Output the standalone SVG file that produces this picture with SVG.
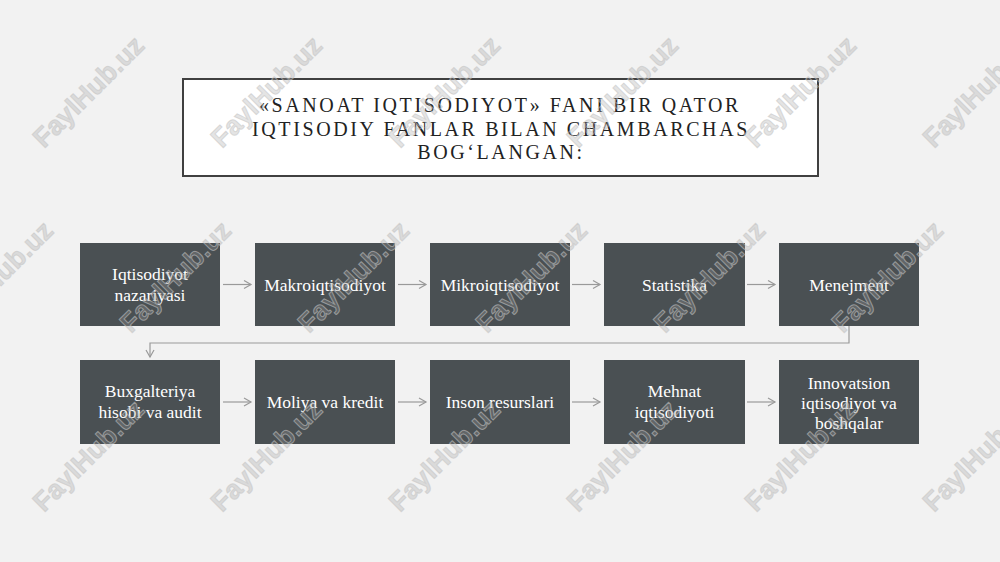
<svg xmlns="http://www.w3.org/2000/svg" width="1000" height="562" viewBox="0 0 1000 562">
<style>
.node rect{fill:#4a5053;}
.node text{fill:#ffffff;font-family:"Liberation Serif","Times New Roman",serif;font-size:17.5px;text-anchor:middle;}
.title{font-family:"Liberation Serif","Times New Roman",serif;font-size:20px;fill:#222;text-anchor:middle;letter-spacing:2.6px;}
.conn{fill:none;stroke:#9a9a9a;stroke-width:1.2;}
.wm{font-family:"Liberation Sans",Arial,sans-serif;font-weight:bold;font-size:27px;fill:#a0a0a0;fill-opacity:0.28;stroke:#c4c4c4;stroke-opacity:0.6;stroke-width:1;text-anchor:middle;}
</style>
<defs>
<marker id="arr" markerWidth="10" markerHeight="10" refX="8" refY="5" orient="auto" markerUnits="userSpaceOnUse">
<path d="M1,1 L8,5 L1,9" fill="none" stroke="#9a9a9a" stroke-width="1.2"/>
</marker>
</defs>
<rect width="1000" height="562" fill="#f2f2f2"/>

<g id="title">
<rect x="183" y="79" width="635" height="97" fill="#ffffff" stroke="#404040" stroke-width="2"/>
<text class="title" x="500" y="112">«SANOAT IQTISODIYOT» FANI BIR QATOR</text>
<text class="title" x="501" y="136">IQTISODIY FANLAR BILAN CHAMBARCHAS</text>
<text class="title" x="501" y="159">BOG‘LANGAN:</text>
</g>

<g id="connectors">
<line class="conn" x1="223" y1="284.5" x2="251" y2="284.5" marker-end="url(#arr)"/>
<line class="conn" x1="398" y1="284.5" x2="426" y2="284.5" marker-end="url(#arr)"/>
<line class="conn" x1="572" y1="284.5" x2="600" y2="284.5" marker-end="url(#arr)"/>
<line class="conn" x1="747" y1="284.5" x2="775" y2="284.5" marker-end="url(#arr)"/>
<polyline class="conn" points="849,326 849,343 150,343 150,357" marker-end="url(#arr)"/>
<line class="conn" x1="223" y1="402" x2="251" y2="402" marker-end="url(#arr)"/>
<line class="conn" x1="398" y1="402" x2="426" y2="402" marker-end="url(#arr)"/>
<line class="conn" x1="572" y1="402" x2="600" y2="402" marker-end="url(#arr)"/>
<line class="conn" x1="747" y1="402" x2="775" y2="402" marker-end="url(#arr)"/>
</g>

<g id="n1" class="node"><rect x="80" y="243" width="140" height="83"/><text x="150" y="280">Iqtisodiyot</text><text x="150" y="301">nazariyasi</text></g>
<g id="n2" class="node"><rect x="255" y="243" width="140" height="83"/><text x="325" y="291">Makroiqtisodiyot</text></g>
<g id="n3" class="node"><rect x="430" y="243" width="140" height="83"/><text x="500" y="291">Mikroiqtisodiyot</text></g>
<g id="n4" class="node"><rect x="604" y="243" width="141" height="83"/><text x="674.5" y="291">Statistika</text></g>
<g id="n5" class="node"><rect x="779" y="243" width="140" height="83"/><text x="849" y="291">Menejment</text></g>

<g id="n6" class="node"><rect x="80" y="360" width="140" height="84"/><text x="150" y="397">Buxgalteriya</text><text x="150" y="418">hisobi va audit</text></g>
<g id="n7" class="node"><rect x="255" y="360" width="140" height="84"/><text x="325" y="408">Moliya va kredit</text></g>
<g id="n8" class="node"><rect x="430" y="360" width="140" height="84"/><text x="500" y="408">Inson resurslari</text></g>
<g id="n9" class="node"><rect x="604" y="360" width="141" height="84"/><text x="674.5" y="397">Mehnat</text><text x="674.5" y="418">iqtisodiyoti</text></g>
<g id="n10" class="node"><rect x="779" y="360" width="140" height="84"/><text x="849" y="389">Innovatsion</text><text x="849" y="409">iqtisodiyot va</text><text x="849" y="429">boshqalar</text></g>

<g id="watermarks">
<text class="wm" transform="translate(95,98) rotate(-45)">FaylHub.uz</text>
<text class="wm" transform="translate(273,98) rotate(-45)">FaylHub.uz</text>
<text class="wm" transform="translate(451,98) rotate(-45)">FaylHub.uz</text>
<text class="wm" transform="translate(629,98) rotate(-45)">FaylHub.uz</text>
<text class="wm" transform="translate(807,98) rotate(-45)">FaylHub.uz</text>
<text class="wm" transform="translate(985,98) rotate(-45)">FaylHub.uz</text>
<text class="wm" transform="translate(4,283) rotate(-45)">FaylHub.uz</text>
<text class="wm" transform="translate(182,283) rotate(-45)">FaylHub.uz</text>
<text class="wm" transform="translate(360,283) rotate(-45)">FaylHub.uz</text>
<text class="wm" transform="translate(538,283) rotate(-45)">FaylHub.uz</text>
<text class="wm" transform="translate(716,283) rotate(-45)">FaylHub.uz</text>
<text class="wm" transform="translate(894,283) rotate(-45)">FaylHub.uz</text>
<text class="wm" transform="translate(95,462) rotate(-45)">FaylHub.uz</text>
<text class="wm" transform="translate(273,462) rotate(-45)">FaylHub.uz</text>
<text class="wm" transform="translate(451,462) rotate(-45)">FaylHub.uz</text>
<text class="wm" transform="translate(629,462) rotate(-45)">FaylHub.uz</text>
<text class="wm" transform="translate(807,462) rotate(-45)">FaylHub.uz</text>
<text class="wm" transform="translate(985,462) rotate(-45)">FaylHub.uz</text>
</g>
</svg>
